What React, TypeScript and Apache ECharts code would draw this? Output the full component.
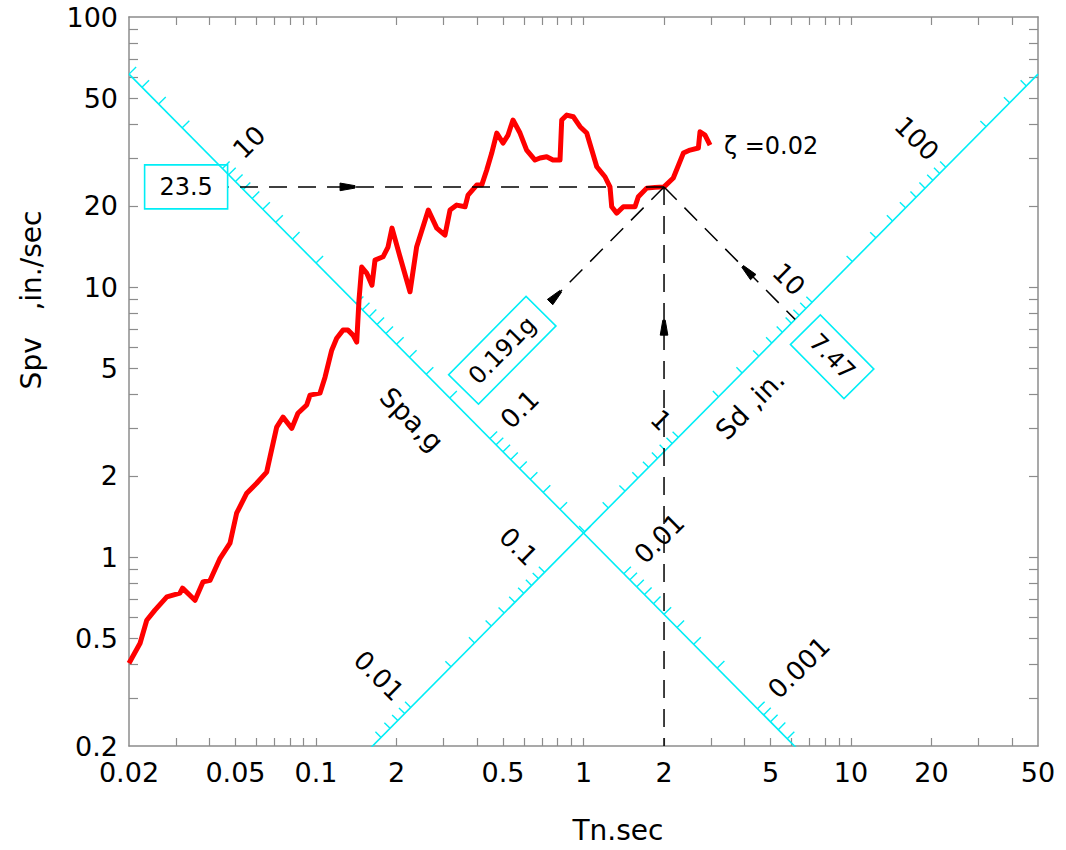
import { useEffect, useRef } from "react";
import * as echarts from "echarts";

const G_IN = 386.1; // acceleration of gravity, in./sec^2
const TWO_PI = 2 * Math.PI;

const X_MIN = 0.02;
const X_MAX = 50;
const Y_MIN = 0.2;
const Y_MAX = 100;

// Pseudo-velocity response spectrum, damping ratio 0.02: natural period (sec)
const periodsSec = [
  0.02, 0.022, 0.0233, 0.025, 0.0277, 0.031, 0.0317, 0.0353, 0.0378, 0.0402,
  0.0438, 0.0477, 0.0505, 0.0551, 0.06, 0.0654, 0.0673, 0.0713, 0.0753, 0.0812,
  0.0856, 0.0923, 0.095, 0.1035, 0.1081, 0.1145, 0.1195, 0.1262, 0.1317, 0.1375,
  0.142, 0.1448, 0.1482, 0.1547, 0.1619, 0.1662, 0.1781, 0.1859, 0.1924, 0.2061,
  0.2246, 0.2379, 0.263, 0.2828, 0.3036, 0.317, 0.3358, 0.3608, 0.3702, 0.3988,
  0.4164, 0.4348, 0.4539, 0.474, 0.5, 0.5224, 0.545, 0.579, 0.613, 0.659,
  0.688, 0.7285, 0.769, 0.817, 0.829, 0.866, 0.916, 0.971, 1.028, 1.074,
  1.121, 1.203, 1.256, 1.275, 1.331, 1.409, 1.558, 1.603, 1.723, 1.85,
  2.0, 2.166, 2.362, 2.502, 2.688, 2.726, 2.846, 2.972,
];
// Spv (in./sec) at each period above
const spvInSec = [
  0.405, 0.48, 0.584, 0.637, 0.713, 0.736, 0.768, 0.693, 0.81, 0.822,
  0.991, 1.127, 1.455, 1.726, 1.879, 2.065, 2.347, 3.03, 3.3, 3.0,
  3.41, 3.66, 3.98, 4.05, 4.64, 5.84, 6.47, 6.93, 6.93, 6.64,
  6.26, 8.95, 11.86, 11.27, 10.17, 12.59, 12.95, 14.07, 16.54, 12.95,
  9.61, 14.11, 19.28, 16.54, 15.58, 19.28, 20.12, 19.83, 21.92, 23.86,
  23.86, 27.13, 31.35, 37.18, 34.15, 36.56, 41.55, 37.18, 32.16, 29.54,
  30.05, 30.38, 29.54, 29.54, 41.55, 43.35, 42.73, 39.25, 37.18, 32.16,
  27.9, 25.62, 23.51, 19.83, 18.79, 19.83, 19.83, 21.6, 23.25, 23.4,
  23.5, 25.34, 31.35, 32.16, 32.72, 37.59, 36.56, 33.57,
];
const dampingText = "\u03b6 =0.02";
const dampingLabelAt = [3.35, 33.3];

const xLabelValues = [0.02, 0.05, 0.1, 0.2, 0.5, 1, 2, 5, 10, 20, 50];
const xLabelTexts = ["0.02", "0.05", "0.1", "2", "0.5", "1", "2", "5", "10", "20", "50"];
const yLabelValues = [0.2, 0.5, 1, 2, 5, 10, 20, 50, 100];
const yLabelTexts = ["0.2", "0.5", "1", "2", "5", "10", "20", "50", "100"];

// The Sd scale and the Spa scale cross at Tn = 1 sec, Spa = 0.02 g
const scaleCrossPeriod = 1;
const scaleCrossSpa = 0.02;
const spaLabelValues = [10, 0.1, 0.01, 0.001];
const sdLabelValues = [0.01, 0.1, 1, 10, 100];
const spaTitleAt = 0.23; // g, position of the "Spa,g" caption along its scale
const sdTitleAt = 2.44; // in., position of the "Sd ,in." caption along its scale

// Spectral values read at Tn = 2 sec
const readPeriod = 2;
const readSpv = 23.5;
const readSpa = 0.191;
const readSd = 7.47;
const spvGuideStartPeriod = 0.047;
const spaGuideEndPeriod = 0.75;
const spvArrowPeriod = 0.123;
const periodArrowSpv = 6.64;
const sdArrowPeriod = 4.31;
const spvBoxPeriod = 0.0327;
const spaBoxPeriod = 0.497;
const sdBoxPeriod = 8.5;

const FONT = '"DejaVu Sans", "Liberation Sans", sans-serif';
const AXIS_GRAY = "#8c8c8c";
const CYAN = "#00eef6";

type Kind = "spa" | "sd";

const spaScaleSd = (scaleCrossSpa * G_IN * scaleCrossPeriod * scaleCrossPeriod) / (TWO_PI * TWO_PI);
const spvOnSpa = (spa: number, t: number) => (spa * G_IN * t) / TWO_PI;
const spvOnSd = (sd: number, t: number) => (TWO_PI * sd) / t;

// Point (Tn, Spv) on a tripartite scale for a given Sd (in.) or Spa (g)
function scalePoint(kind: Kind, v: number): number[] {
  if (kind === "sd") {
    const spv = Math.sqrt(v * scaleCrossSpa * G_IN);
    return [(TWO_PI * v) / spv, spv];
  }
  const spv = Math.sqrt(v * G_IN * spaScaleSd);
  return [(TWO_PI * spaScaleSd) / spv, spv];
}

function decadeTicks(lo: number, hi: number): number[] {
  const out: number[] = [];
  for (let e = Math.floor(Math.log10(lo)) - 1; e <= Math.ceil(Math.log10(hi)); e++) {
    for (let m = 1; m <= 9; m++) {
      const v = Number((m * Math.pow(10, e)).toPrecision(6));
      if (v > lo * (1 + 1e-9) && v < hi * (1 - 1e-9)) out.push(v);
    }
  }
  return out;
}

const insidePlot = (p: number[]) =>
  p[0] >= X_MIN * 0.999 && p[0] <= X_MAX * 1.001 && p[1] >= Y_MIN * 0.999 && p[1] <= Y_MAX * 1.001;

// Pixel frame of a scale at value v: base point, direction of increasing value, tick-side normal
function scaleFrame(api: any, kind: Kind, v: number) {
  const p = api.coord(scalePoint(kind, v));
  const q = api.coord(scalePoint(kind, v * 1.05));
  let dx = q[0] - p[0];
  let dy = q[1] - p[1];
  const len = Math.hypot(dx, dy) || 1;
  dx /= len;
  dy /= len;
  const side = kind === "spa" ? 1 : -1;
  return { p, dx, dy, nx: side * -dy, ny: side * dx };
}

function buildOption() {
  const xTicks = decadeTicks(X_MIN, X_MAX);
  const yTicks = decadeTicks(Y_MIN, Y_MAX);
  const clampIn = (v: number, lo: number, hi: number) =>
    Math.min(Math.max(v, lo * (1 + 1e-9)), hi * (1 - 1e-9));
  const labelFor = (vals: number[], texts: string[]) => (val: number) => {
    const i = vals.findIndex((v) => Math.abs(Math.log10(v / val)) < 1e-4);
    return i >= 0 ? texts[i] : "";
  };

  const tickStyle = { color: AXIS_GRAY, width: 1.2 };
  const lineStyleAxis = { show: true, onZero: false, lineStyle: { color: AXIS_GRAY, width: 1.5 } };
  const labelStyle = { color: "#000", fontSize: 27, fontFamily: FONT };
  const common = {
    type: "log",
    logBase: 10,
    splitLine: { show: false },
    minorTick: { show: false },
    minorSplitLine: { show: false },
    axisLine: lineStyleAxis,
  };
  const xAxisBase = { ...common, min: X_MIN, max: X_MAX, gridIndex: 0 };
  const yAxisBase = { ...common, min: Y_MIN, max: Y_MAX, gridIndex: 0 };

  // tripartite scale ticks and labels
  const spaTicks = decadeTicks(1e-5, 1e3).filter((v) => insidePlot(scalePoint("spa", v)));
  const sdTicks = decadeTicks(1e-4, 1e4).filter((v) => insidePlot(scalePoint("sd", v)));
  const tickItems: { kind: Kind; v: number }[] = [
    ...spaTicks.map((v) => ({ kind: "spa" as Kind, v })),
    ...sdTicks.map((v) => ({ kind: "sd" as Kind, v })),
  ];
  const labelItems: { kind: Kind; v: number }[] = [
    ...spaLabelValues.map((v) => ({ kind: "spa" as Kind, v })),
    ...sdLabelValues.map((v) => ({ kind: "sd" as Kind, v })),
  ];
  const titleItems: { kind: Kind; v: number; text: string; offset: number }[] = [
    { kind: "spa", v: spaTitleAt, text: "Spa,g", offset: -42 },
    { kind: "sd", v: sdTitleAt, text: "Sd ,in.", offset: -28 },
  ];

  const readPoint = [readPeriod, readSpv];
  const arrows = [
    { tip: [spvArrowPeriod, readSpv], from: readPoint },
    { tip: [readPeriod, periodArrowSpv], from: readPoint },
    { tip: [spaGuideEndPeriod, spvOnSpa(readSpa, spaGuideEndPeriod)], from: [readPeriod, spvOnSpa(readSpa, readPeriod)] },
    { tip: [sdArrowPeriod, spvOnSd(readSd, sdArrowPeriod)], from: [readPeriod, spvOnSd(readSd, readPeriod)] },
  ];
  const boxes = [
    { c: [spvBoxPeriod, readSpv], toward: readPoint, w: 83, h: 44, text: String(readSpv) },
    { c: [spaBoxPeriod, spvOnSpa(readSpa, spaBoxPeriod)], toward: [readPeriod, spvOnSpa(readSpa, readPeriod)], w: 110, h: 42, text: `${readSpa}g` },
    { c: [sdBoxPeriod, spvOnSd(readSd, sdBoxPeriod)], toward: [readPeriod, spvOnSd(readSd, readPeriod)], w: 76, h: 42, text: String(readSd) },
  ];
  const sdMeet = scalePoint("sd", readSd);

  const custom = (name: string, data: number[][], renderItem: any, z: number, clip = false) => ({
    type: "custom",
    name,
    coordinateSystem: "cartesian2d",
    data,
    encode: { x: 0, y: 1 },
    renderItem,
    z,
    clip,
    silent: true,
  });
  const plainLine = (name: string, data: number[][], color: string, width: number, z: number, type: any = "solid") => ({
    type: "line",
    name,
    data,
    symbol: "none",
    showSymbol: false,
    lineStyle: { color, width, type },
    z,
    silent: true,
    clip: true,
  });
  const dash = [18, 11];

  return {
    animation: false,
    backgroundColor: "#ffffff",
    grid: { left: 129, top: 17, width: 909, height: 729, containLabel: false, outerBoundsMode: "none" },
    xAxis: [
      {
        ...xAxisBase,
        position: "bottom",
        axisTick: { show: true, inside: true, length: 8, customValues: xTicks, lineStyle: tickStyle },
        axisLabel: {
          show: true,
          customValues: xLabelValues.map((v) => clampIn(v, X_MIN, X_MAX)),
          formatter: labelFor(xLabelValues, xLabelTexts),
          margin: 13,
          ...labelStyle,
        },
      },
      {
        ...xAxisBase,
        position: "top",
        axisTick: { show: true, inside: true, length: 8, customValues: xTicks, lineStyle: tickStyle },
        axisLabel: { show: false },
      },
    ],
    yAxis: [
      {
        ...yAxisBase,
        position: "left",
        axisTick: { show: true, inside: true, length: 9, customValues: yTicks, lineStyle: tickStyle },
        axisLabel: {
          show: true,
          customValues: yLabelValues.map((v) => clampIn(v, Y_MIN, Y_MAX)),
          formatter: labelFor(yLabelValues, yLabelTexts),
          margin: 11,
          ...labelStyle,
        },
      },
      {
        ...yAxisBase,
        position: "right",
        axisTick: { show: true, inside: true, length: 9, customValues: yTicks, lineStyle: tickStyle },
        axisLabel: { show: false },
      },
    ],
    graphic: [
      {
        type: "text",
        x: 618,
        y: 830,
        style: { text: "Tn.sec", fontSize: 28, fontFamily: FONT, fill: "#000", align: "center", verticalAlign: "middle" },
      },
      {
        type: "text",
        x: 31,
        y: 300,
        rotation: Math.PI / 2,
        style: { text: "Spv   ,in./sec", fontSize: 28, fontFamily: FONT, fill: "#000", align: "center", verticalAlign: "middle" },
      },
    ],
    series: [
      // Sd scale: a line of constant Spa
      plainLine("Sd scale", [[X_MIN, spvOnSpa(scaleCrossSpa, X_MIN)], [X_MAX, spvOnSpa(scaleCrossSpa, X_MAX)]], CYAN, 1.6, 2),
      // Spa scale: a line of constant Sd
      plainLine("Spa scale", [[X_MIN, spvOnSd(spaScaleSd, X_MIN)], [X_MAX, spvOnSd(spaScaleSd, X_MAX)]], CYAN, 1.6, 2),
      custom(
        "scale ticks",
        tickItems.map((it) => scalePoint(it.kind, it.v)),
        (params: any, api: any) => {
          const it = tickItems[params.dataIndex];
          const f = scaleFrame(api, it.kind, it.v);
          const len = it.kind === "spa" ? 10 : 8;
          return {
            type: "line",
            shape: { x1: f.p[0], y1: f.p[1], x2: f.p[0] + f.nx * len, y2: f.p[1] + f.ny * len },
            style: { stroke: CYAN, lineWidth: 1.4, fill: null },
          };
        },
        2,
        true
      ),
      custom(
        "scale labels",
        labelItems.map((it) => scalePoint(it.kind, it.v)),
        (params: any, api: any) => {
          const it = labelItems[params.dataIndex];
          const f = scaleFrame(api, it.kind, it.v);
          const isSpa = it.kind === "spa";
          const d0 = isSpa ? 21 : 16;
          const rx = isSpa ? f.nx : -f.nx;
          const ry = isSpa ? f.ny : -f.ny;
          return {
            type: "text",
            x: f.p[0] + f.nx * d0,
            y: f.p[1] + f.ny * d0,
            rotation: Math.atan2(-ry, rx),
            style: {
              text: String(it.v),
              fontSize: 26,
              fontFamily: FONT,
              fill: "#000",
              align: isSpa ? "left" : "right",
              verticalAlign: "middle",
            },
          };
        },
        3
      ),
      custom(
        "scale titles",
        titleItems.map((it) => scalePoint(it.kind, it.v)),
        (params: any, api: any) => {
          const it = titleItems[params.dataIndex];
          const f = scaleFrame(api, it.kind, it.v);
          let rx = f.dx;
          let ry = f.dy;
          if (rx < 0) {
            rx = -rx;
            ry = -ry;
          }
          return {
            type: "text",
            x: f.p[0] + f.nx * it.offset,
            y: f.p[1] + f.ny * it.offset,
            rotation: Math.atan2(-ry, rx),
            style: { text: it.text, fontSize: 27, fontFamily: FONT, fill: "#000", align: "center", verticalAlign: "middle" },
          };
        },
        3
      ),
      // response spectrum
      {
        type: "line",
        name: "Spv",
        data: periodsSec.map((t, i) => [t, spvInSec[i]]),
        symbol: "none",
        showSymbol: false,
        lineStyle: { color: "#ff0000", width: 5, join: "round" },
        z: 4,
        silent: true,
        clip: true,
      },
      // reading guides from the spectrum at Tn = 2 sec
      plainLine("Spv guide", [[readPeriod, readSpv], [spvGuideStartPeriod, readSpv]], "#000", 1.5, 5, dash),
      plainLine("Tn guide", [[readPeriod, readSpv], [readPeriod, Y_MIN]], "#000", 1.5, 5, dash),
      plainLine(
        "Spa guide",
        [[readPeriod, spvOnSpa(readSpa, readPeriod)], [spaGuideEndPeriod, spvOnSpa(readSpa, spaGuideEndPeriod)]],
        "#000",
        1.5,
        5,
        dash
      ),
      plainLine("Sd guide", [[readPeriod, spvOnSd(readSd, readPeriod)], sdMeet], "#000", 1.5, 5, dash),
      custom(
        "guide arrows",
        arrows.map((a) => a.tip),
        (params: any, api: any) => {
          const a = arrows[params.dataIndex];
          const p = api.coord(a.tip);
          const f = api.coord(a.from);
          let dx = p[0] - f[0];
          let dy = p[1] - f[1];
          const len = Math.hypot(dx, dy) || 1;
          dx /= len;
          dy /= len;
          const L = 15;
          const wBack = 1.2;
          const wFront = 3.8;
          const bx = p[0] - dx * L;
          const by = p[1] - dy * L;
          return {
            type: "polygon",
            shape: {
              points: [
                [bx - dy * wBack, by + dx * wBack],
                [p[0] - dy * wFront, p[1] + dx * wFront],
                [p[0] + dy * wFront, p[1] - dx * wFront],
                [bx + dy * wBack, by - dx * wBack],
              ],
            },
            style: { fill: "#000", stroke: "#000", lineWidth: 1 },
          };
        },
        6
      ),
      custom(
        "read boxes",
        boxes.map((b) => b.c),
        (params: any, api: any) => {
          const b = boxes[params.dataIndex];
          const c = api.coord(b.c);
          const t = api.coord(b.toward);
          let dx = t[0] - c[0];
          let dy = t[1] - c[1];
          if (dx < 0) {
            dx = -dx;
            dy = -dy;
          }
          return {
            type: "group",
            x: c[0],
            y: c[1],
            rotation: Math.atan2(-dy, dx),
            children: [
              {
                type: "rect",
                shape: { x: -b.w / 2, y: -b.h / 2, width: b.w, height: b.h },
                style: { fill: "none", stroke: CYAN, lineWidth: 1.6 },
              },
              {
                type: "text",
                x: 0,
                y: 0,
                style: { text: b.text, fontSize: 24, fontFamily: FONT, fill: "#000", align: "center", verticalAlign: "middle" },
              },
            ],
          };
        },
        7
      ),
      custom(
        "damping",
        [dampingLabelAt],
        (params: any, api: any) => {
          const p = api.coord(dampingLabelAt);
          return {
            type: "text",
            x: p[0],
            y: p[1],
            style: { text: dampingText, fontSize: 24, fontFamily: FONT, fill: "#000", align: "left", verticalAlign: "middle" },
          };
        },
        7
      ),
    ],
  };
}

export default function App() {
  const ref = useRef<HTMLDivElement>(null);
  useEffect(() => {
    const el = ref.current;
    if (!el) return;
    const chart = echarts.init(el, null, { renderer: "svg" });
    chart.setOption(buildOption() as any);
    return () => chart.dispose();
  }, []);
  return (
    <div
      ref={ref}
      style={{ position: "absolute", left: 0, top: 0, width: 1066, height: 850, background: "#fff" }}
    />
  );
}
